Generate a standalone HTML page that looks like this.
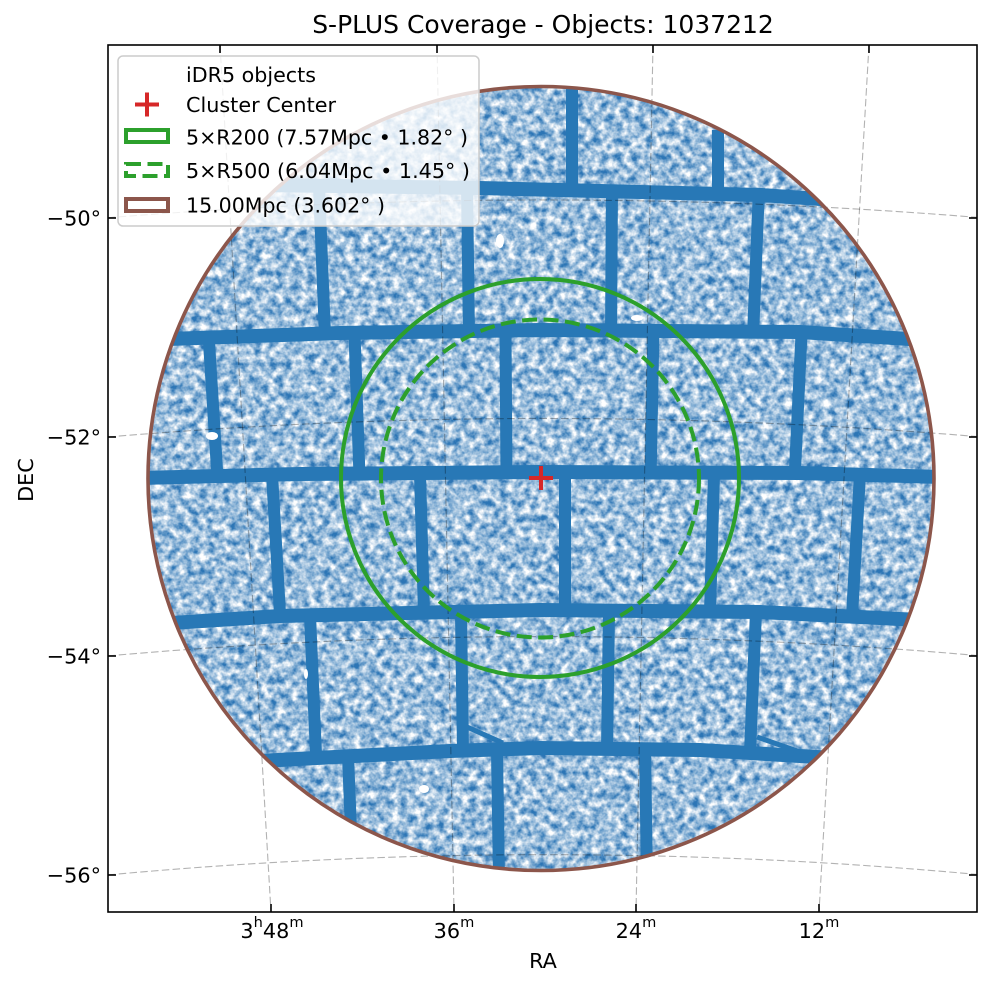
<!DOCTYPE html>
<html><head><meta charset="utf-8"><style>
html,body{margin:0;padding:0;background:#fff;width:992px;height:986px;overflow:hidden;}
svg{display:block;font-family:"DejaVu Sans","Liberation Sans",sans-serif;overflow:hidden;}
</style></head><body>
<svg width="992" height="986" viewBox="0 0 992 986" xmlns="http://www.w3.org/2000/svg">
<defs>
<clipPath id="ax"><rect x="108" y="45" width="869" height="867"/></clipPath>
<clipPath id="cc"><circle cx="541" cy="478.5" r="392"/></clipPath>
<filter id="nz" x="0" y="0" width="1" height="1">
<feTurbulence type="fractalNoise" baseFrequency="0.13" numOctaves="3" seed="7" result="t"/>
<feColorMatrix in="t" type="matrix" values="0 0 0 0 1  0 0 0 0 1  0 0 0 0 1  1.8 0 0 0 -0.38"/>
</filter>
</defs>
<rect width="992" height="986" fill="#fff"/>

<g clip-path="url(#cc)">
<rect x="140" y="80" width="805" height="800" fill="#2c75b5"/>
<rect x="140" y="80" width="805" height="800" filter="url(#nz)"/>
<g fill="none" stroke="#2878b6" stroke-width="14" stroke-linejoin="round">
<polyline points="260,185 480,188 560,190 760,195 850,201"/>
<polyline points="140,340 340,333 540,330 800,332 940,341"/>
<polyline points="140,478 300,474 540,472 800,473 940,477"/>
<polyline points="140,625 280,616 540,610 760,612 940,621"/>
<polyline points="240,762 450,751 540,748 700,750 850,759"/>
</g>
<g stroke="#2878b6" stroke-width="12">
<line x1="572" y1="80" x2="572" y2="192"/>
<line x1="718" y1="130" x2="718" y2="192"/>
<line x1="319" y1="186" x2="325" y2="336"/>
<line x1="467" y1="186" x2="469" y2="336"/>
<line x1="612" y1="186" x2="611" y2="336"/>
<line x1="759" y1="188" x2="753" y2="336"/>
<line x1="208.5" y1="334" x2="217.4" y2="476"/>
<line x1="354.5" y1="334" x2="359.5" y2="476"/>
<line x1="505.5" y1="334" x2="506.5" y2="476"/>
<line x1="653.4" y1="334" x2="650.6" y2="476"/>
<line x1="801.4" y1="336" x2="794.7" y2="476"/>
<line x1="272" y1="474" x2="280" y2="614"/>
<line x1="420" y1="474" x2="424" y2="614"/>
<line x1="565" y1="474" x2="565" y2="612"/>
<line x1="714" y1="474" x2="710" y2="612"/>
<line x1="860" y1="474" x2="852" y2="616"/>
<line x1="310" y1="616" x2="316" y2="754"/>
<line x1="461" y1="614" x2="463" y2="752"/>
<line x1="609" y1="612" x2="607" y2="750"/>
<line x1="756" y1="612" x2="750" y2="752"/>
<line x1="348" y1="756" x2="353" y2="880"/>
<line x1="497" y1="750" x2="499" y2="880"/>
<line x1="645" y1="748" x2="647" y2="880"/>
</g>
<g stroke="#2878b6" stroke-width="5">
<line x1="757" y1="737" x2="800" y2="752"/>
<line x1="467" y1="727" x2="503" y2="743"/>
</g>
<g fill="#fff">
<ellipse cx="500" cy="241" rx="4" ry="7"/>
<ellipse cx="212" cy="436" rx="6" ry="4"/>
<ellipse cx="637" cy="318" rx="6" ry="3"/>
<ellipse cx="424" cy="789" rx="5" ry="4"/>
<ellipse cx="306" cy="674" rx="2" ry="5"/>
</g>
</g>

<!-- grid -->
<g clip-path="url(#ax)" fill="none" stroke="#000" stroke-opacity="0.3" stroke-width="1.1" stroke-dasharray="7.5 3.3">
<path d="M108,217.75 A5379,5379 0 0,1 977,217.35"/>
<path d="M108,437 A5160.5,5160.5 0 0,1 977,436.6"/>
<path d="M108,655.9 A4942.4,4942.4 0 0,1 977,655.5"/>
<path d="M108,874.95 A4724.3,4724.3 0 0,1 977,874.45"/>
<line x1="220" y1="45" x2="271" y2="912"/>
<line x1="437" y1="45" x2="454" y2="912"/>
<line x1="653" y1="45" x2="636" y2="912"/>
<line x1="869" y1="45" x2="819" y2="912"/>
</g>

<!-- circles -->
<g fill="none" stroke-width="4">
<circle cx="540" cy="478" r="199" stroke="#2ca02c"/>
<circle cx="540" cy="478.5" r="159" stroke="#2ca02c" stroke-dasharray="15 6.5"/>
<ellipse cx="541" cy="478.5" rx="393" ry="392" stroke="#8c564b" stroke-width="3.6"/>
</g>
<g stroke="#d62728" stroke-width="4">
<line x1="529" y1="478" x2="553" y2="478"/>
<line x1="541" y1="466" x2="541" y2="490"/>
</g>

<!-- legend -->
<rect x="118" y="56" width="361" height="170" rx="5" ry="5" fill="#fff" fill-opacity="0.8" stroke="#cccccc" stroke-width="1.5"/>
<g stroke="#d62728" stroke-width="4">
<line x1="135" y1="104.5" x2="159" y2="104.5"/>
<line x1="147" y1="92.5" x2="147" y2="116.5"/>
</g>
<rect x="126" y="130" width="42" height="12" fill="none" stroke="#2ca02c" stroke-width="4"/>
<rect x="126" y="164" width="42" height="12" fill="none" stroke="#2ca02c" stroke-width="4" stroke-dasharray="15 6.5"/>
<rect x="126" y="199" width="42" height="12" fill="none" stroke="#8c564b" stroke-width="4"/>
<g font-size="20.8" fill="#000">
<text x="186" y="82" textLength="130" lengthAdjust="spacingAndGlyphs">iDR5 objects</text>
<text x="186" y="112" textLength="150" lengthAdjust="spacingAndGlyphs">Cluster Center</text>
<text x="186" y="144.5" textLength="282" lengthAdjust="spacingAndGlyphs">5×R200 (7.57Mpc • 1.82° )</text>
<text x="186" y="178" textLength="284" lengthAdjust="spacingAndGlyphs">5×R500 (6.04Mpc • 1.45° )</text>
<text x="186" y="212.5" textLength="199" lengthAdjust="spacingAndGlyphs">15.00Mpc (3.602° )</text>
</g>

<!-- axes frame and ticks -->
<rect x="108" y="45" width="869" height="867" fill="none" stroke="#000" stroke-width="1.6"/>
<g stroke="#000" stroke-width="1.6">
<line x1="108" y1="218" x2="116" y2="218"/>
<line x1="108" y1="437" x2="116" y2="437"/>
<line x1="108" y1="656" x2="116" y2="656"/>
<line x1="108" y1="875" x2="116" y2="875"/>
<line x1="977" y1="218" x2="969" y2="218"/>
<line x1="977" y1="437" x2="969" y2="437"/>
<line x1="977" y1="656" x2="969" y2="656"/>
<line x1="977" y1="875" x2="969" y2="875"/>
<line x1="220" y1="45" x2="220" y2="53"/>
<line x1="437" y1="45" x2="437" y2="53"/>
<line x1="653" y1="45" x2="653" y2="53"/>
<line x1="869" y1="45" x2="869" y2="53"/>
<line x1="271" y1="912" x2="271" y2="904"/>
<line x1="454" y1="912" x2="454" y2="904"/>
<line x1="636" y1="912" x2="636" y2="904"/>
<line x1="819" y1="912" x2="819" y2="904"/>
</g>

<g font-size="20.8" fill="#000">
<text x="101" y="225.6" text-anchor="end">−50°</text>
<text x="101" y="444.6" text-anchor="end">−52°</text>
<text x="101" y="663.6" text-anchor="end">−54°</text>
<text x="101" y="882.6" text-anchor="end">−56°</text>
<text x="272" y="938" text-anchor="middle">3<tspan font-size="14.6" dy="-11">h</tspan><tspan dy="11">48</tspan><tspan font-size="14.6" dy="-11">m</tspan></text>
<text x="454" y="938" text-anchor="middle">36<tspan font-size="14.6" dy="-11">m</tspan></text>
<text x="636" y="938" text-anchor="middle">24<tspan font-size="14.6" dy="-11">m</tspan></text>
<text x="819" y="938" text-anchor="middle">12<tspan font-size="14.6" dy="-11">m</tspan></text>
<text x="543" y="968" text-anchor="middle">RA</text>
<text transform="translate(33,480) rotate(-90)" text-anchor="middle">DEC</text>
</g>
<text x="543" y="33" font-size="25" text-anchor="middle" fill="#000">S-PLUS Coverage - Objects: 1037212</text>
</svg>
</body></html>
